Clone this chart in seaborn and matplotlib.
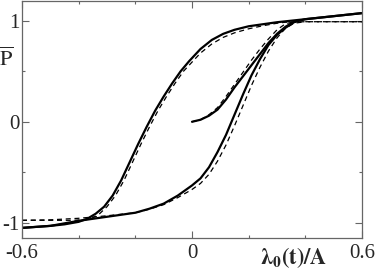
import matplotlib
matplotlib.use("Agg")
import matplotlib.pyplot as plt
import numpy as np
import pandas as pd
import seaborn as sns
from matplotlib.ticker import FixedLocator, FixedFormatter

# solid curves
up_x = [-0.60, -0.55, -0.50, -0.45, -0.40, -0.37, -0.34, -0.31, -0.28, -0.25, -0.22, -0.19,
        -0.16, -0.13, -0.10, -0.07, -0.04, -0.01, 0.03, 0.07, 0.11, 0.15, 0.20, 0.25, 0.30,
        0.35, 0.40, 0.45, 0.50, 0.55, 0.60]
up_y = [-1.05, -1.04, -1.03, -1.015, -0.99, -0.96, -0.91, -0.84, -0.73, -0.58, -0.40, -0.22,
        -0.05, 0.11, 0.25, 0.38, 0.50, 0.60, 0.72, 0.81, 0.87, 0.91, 0.945, 0.965, 0.985,
        1.00, 1.015, 1.03, 1.045, 1.06, 1.075]

lo_x = [-0.60, -0.50, -0.40, -0.30, -0.20, -0.15, -0.10, -0.05, 0.00, 0.03, 0.06, 0.09,
        0.12, 0.15, 0.18, 0.21, 0.24, 0.27, 0.30, 0.33, 0.36, 0.40, 0.45, 0.50, 0.55, 0.60]
lo_y = [-1.05, -1.03, -0.98, -0.94, -0.90, -0.86, -0.81, -0.73, -0.63, -0.56, -0.45, -0.30,
        -0.13, 0.07, 0.27, 0.46, 0.62, 0.76, 0.86, 0.93, 0.985, 1.015, 1.03, 1.045, 1.06, 1.075]

ini_x = [0.00, 0.03, 0.06, 0.09, 0.12, 0.15, 0.18, 0.21, 0.24, 0.27, 0.30, 0.33, 0.36]
ini_y = [0.00, 0.02, 0.06, 0.12, 0.22, 0.34, 0.45, 0.56, 0.67, 0.78, 0.87, 0.94, 0.99]

# dashed curves
dup_x = [-0.60, -0.50, -0.42, -0.36, -0.33, -0.30, -0.27, -0.24, -0.21, -0.18, -0.15, -0.12,
         -0.09, -0.06, -0.03, 0.00, 0.03, 0.07, 0.11, 0.15, 0.20, 0.25, 0.30, 0.33, 0.40,
         0.50, 0.60]
dup_y = [-0.975, -0.975, -0.975, -0.965, -0.92, -0.84, -0.73, -0.58, -0.40, -0.22, -0.05, 0.11,
         0.25, 0.38, 0.50, 0.59, 0.68, 0.77, 0.835, 0.88, 0.92, 0.95, 0.975, 0.985, 0.99,
         0.99, 0.99]

dlo_x = [-0.60, -0.50, -0.40, -0.30, -0.20, -0.15, -0.10, -0.05, 0.00, 0.03, 0.06, 0.09,
         0.12, 0.15, 0.18, 0.21, 0.24, 0.27, 0.30, 0.33, 0.36, 0.40, 0.50, 0.60]
dlo_y = [-0.975, -0.97, -0.955, -0.93, -0.90, -0.865, -0.82, -0.75, -0.67, -0.61, -0.52, -0.39,
         -0.23, -0.04, 0.16, 0.36, 0.54, 0.70, 0.83, 0.925, 0.975, 0.99, 0.99, 0.99]

dini_x = [0.00, 0.03, 0.06, 0.09, 0.12, 0.15, 0.18, 0.21, 0.24, 0.27, 0.30, 0.33, 0.36]
dini_y = [0.00, 0.02, 0.07, 0.14, 0.25, 0.37, 0.49, 0.61, 0.72, 0.82, 0.91, 0.97, 0.99]

x_ticks = [-0.6, 0, 0.6]
x_labels = ["-0.6", "0", "0.6"]
x_minor = [-0.4, -0.2, 0.2, 0.4]
y_ticks = [-1, 0, 1]
y_labels = ["-1", "0", "1"]
y_minor = [-0.5, 0.5]

sns.set_theme(style="ticks")
plt.rcParams["font.family"] = "serif"
plt.rcParams["font.serif"] = ["Liberation Serif", "DejaVu Serif"]
plt.rcParams["mathtext.fontset"] = "stix"
plt.rcParams["axes.unicode_minus"] = False

fig = plt.figure(figsize=(3.77, 2.71), dpi=100)
ax = fig.add_axes([22 / 377, 33 / 271, 340 / 377, 237 / 271])

solid = [(up_x, up_y), (lo_x, lo_y), (ini_x, ini_y)]
dashed = [(dup_x, dup_y), (dlo_x, dlo_y), (dini_x, dini_y)]

for xs, ys in dashed:
    sns.lineplot(x=xs, y=ys, ax=ax, color="black", lw=0.9, sort=False,
                 estimator=None, linestyle=(0, (4, 3)))
for xs, ys in solid:
    sns.lineplot(x=xs, y=ys, ax=ax, color="black", lw=1.6, sort=False, estimator=None)

ax.set_xlim(-0.6, 0.6)
ax.set_ylim(-1.15, 1.195)

ax.xaxis.set_major_locator(FixedLocator(x_ticks))
ax.xaxis.set_major_formatter(FixedFormatter(x_labels))
ax.xaxis.set_minor_locator(FixedLocator(x_minor))
ax.yaxis.set_major_locator(FixedLocator(y_ticks))
ax.yaxis.set_major_formatter(FixedFormatter(y_labels))
ax.yaxis.set_minor_locator(FixedLocator(y_minor))

ax.tick_params(which="both", direction="in", top=True, right=True, color="0.4",
               width=0.8, labelsize=15, pad=2)
ax.tick_params(axis="x", which="major", pad=4)
ax.tick_params(which="major", length=5)
ax.tick_params(which="minor", length=2.5)
for s in ax.spines.values():
    s.set_color("0.4")
    s.set_linewidth(0.9)

ax.set_ylabel(r"$\overline{\mathrm{P}}$", rotation=0, fontsize=16, va="center")
ax.yaxis.set_label_coords(-0.047, 0.755)
ax.set_xlabel(r"$\mathbf{\lambda_0(t)/A}$", fontsize=16)
ax.xaxis.set_label_coords(0.80, -0.03)
ax.xaxis.label.set_va("top")

fig.savefig("out.png", dpi=100)
